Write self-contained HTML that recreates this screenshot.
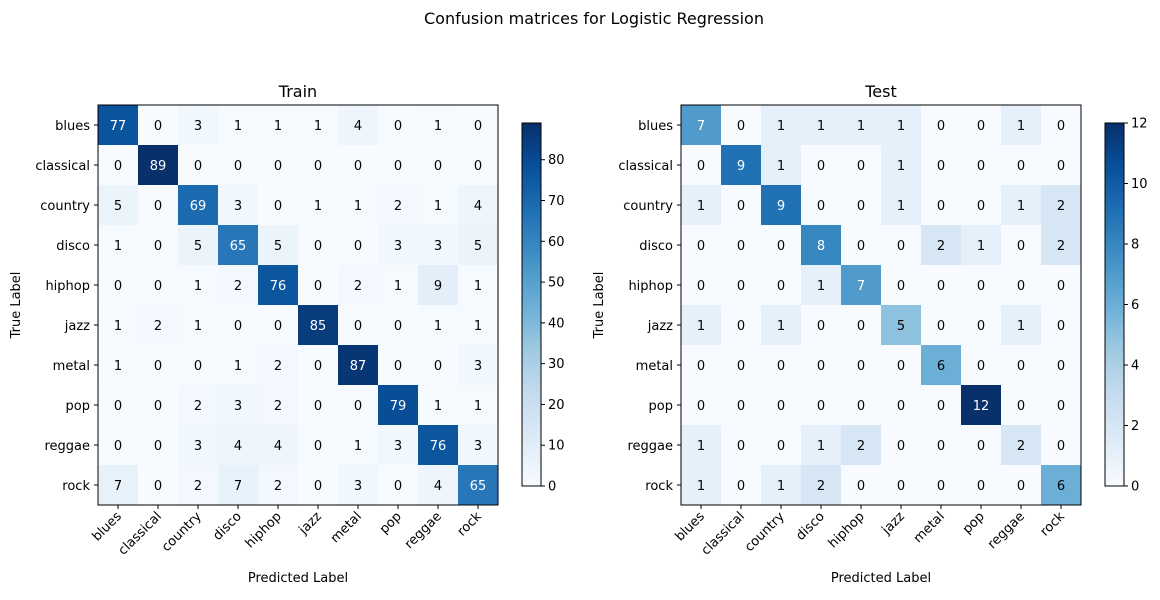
<!DOCTYPE html>
<html><head><meta charset="utf-8"><style>
body{margin:0;background:#fff;font-family:"Liberation Sans","DejaVu Sans",sans-serif}
svg text{font-family:"DejaVu Sans","Liberation Sans",sans-serif}
</style></head><body>
<svg id="chart" width="1160" height="595" xmlns="http://www.w3.org/2000/svg">
<defs><linearGradient id="blues" x1="0" y1="1" x2="0" y2="0">
<stop offset="0" stop-color="#f7fbff"/><stop offset="0.125" stop-color="#deebf7"/><stop offset="0.25" stop-color="#c6dbef"/><stop offset="0.375" stop-color="#9ecae1"/><stop offset="0.5" stop-color="#6baed6"/><stop offset="0.625" stop-color="#4292c6"/><stop offset="0.75" stop-color="#2171b5"/><stop offset="0.875" stop-color="#08519c"/><stop offset="1" stop-color="#08306b"/></linearGradient></defs>
<text x="594" y="24" font-size="16" text-anchor="middle">Confusion matrices for Logistic Regression</text>
</svg>
<script>
const labels=["blues","classical","country","disco","hiphop","jazz","metal","pop","reggae","rock"];
const trainMatrix=[
[77,0,3,1,1,1,4,0,1,0],
[0,89,0,0,0,0,0,0,0,0],
[5,0,69,3,0,1,1,2,1,4],
[1,0,5,65,5,0,0,3,3,5],
[0,0,1,2,76,0,2,1,9,1],
[1,2,1,0,0,85,0,0,1,1],
[1,0,0,1,2,0,87,0,0,3],
[0,0,2,3,2,0,0,79,1,1],
[0,0,3,4,4,0,1,3,76,3],
[7,0,2,7,2,0,3,0,4,65]];
const testMatrix=[
[7,0,1,1,1,1,0,0,1,0],
[0,9,1,0,0,1,0,0,0,0],
[1,0,9,0,0,1,0,0,1,2],
[0,0,0,8,0,0,2,1,0,2],
[0,0,0,1,7,0,0,0,0,0],
[1,0,1,0,0,5,0,0,1,0],
[0,0,0,0,0,0,6,0,0,0],
[0,0,0,0,0,0,0,12,0,0],
[1,0,0,1,2,0,0,0,2,0],
[1,0,1,2,0,0,0,0,0,6]];
const trainTicks=[0,10,20,30,40,50,60,70,80];
const testTicks=[0,2,4,6,8,10,12];
const stops=[[247,251,255],[222,235,247],[198,219,239],[158,202,225],[107,174,214],[66,146,198],[33,113,181],[8,81,156],[8,48,107]];
function blues(t){t=Math.max(0,Math.min(1,t));const p=t*8,i=Math.min(7,Math.floor(p)),f=p-i;const a=stops[i],b=stops[i+1];return `rgb(${a.map((v,k)=>Math.round(v+(b[k]-v)*f)).join(',')})`;}
const svg=document.getElementById('chart');const NS='http://www.w3.org/2000/svg';
function mk(tag,attrs,parent){const e=document.createElementNS(NS,tag);for(const k in attrs)e.setAttribute(k,attrs[k]);(parent||svg).appendChild(e);return e;}
function panel(name,matrix,ticks,x0,title){
  const y0=105,S=400,n=labels.length,c=S/n;
  let max=0;matrix.forEach(r=>r.forEach(v=>{if(v>max)max=v;}));
  const g=mk('g',{});
  
  
  const tt=mk('text',{x:x0+S/2,y:y0-8,'font-size':16,'text-anchor':'middle'},g);tt.textContent=title;
  
  
  const xs=j=>x0+j*c, ys=i=>y0+i*c;
  matrix.forEach((row,i)=>row.forEach((v,j)=>{
    const r=mk('rect',{x:xs(j),y:ys(i),width:c+0.5,height:c+0.5,fill:blues(v/max)},g);
    
    
    const t=mk('text',{x:xs(j)+c/2,y:ys(i)+c/2+5,'font-size':13,'text-anchor':'middle',fill:v>max/2?'#fff':'#000'},g);t.textContent=v;
    
    
  }));
  mk('rect',{x:x0,y:y0,width:S,height:S,fill:'none',stroke:'#000','stroke-width':1},g);
  labels.forEach((l,i)=>{
    mk('line',{x1:x0,x2:x0-4,y1:ys(i)+c/2,y2:ys(i)+c/2,stroke:'#000'},g);
    const t=mk('text',{x:x0-8,y:ys(i)+c/2+5,'font-size':13,'text-anchor':'end'},g);t.textContent=l;
    
    
    const xc=xs(i)+c/2;
    mk('line',{x1:xc,x2:xc,y1:y0+S,y2:y0+S+4,stroke:'#000'},g);
    const t2=mk('text',{x:xc+4,y:y0+S+12,'font-size':13,'text-anchor':'end',transform:`rotate(-45 ${xc+4} ${y0+S+12})`},g);t2.textContent=l;
    
    
  });
  const xl=mk('text',{x:x0+S/2,y:582,'font-size':13,'text-anchor':'middle'},g);xl.textContent='Predicted Label';
  
  
  const yl=mk('text',{x:x0-78,y:y0+S/2,'font-size':13,'text-anchor':'middle',transform:`rotate(-90 ${x0-78} ${y0+S/2})`},g);yl.textContent='True Label';
  
  
  // colorbar
  const cx=x0+424,cy0=123,cy1=486,cw=19;
  const cb=mk('rect',{x:cx,y:cy0,width:cw,height:cy1-cy0,fill:'url(#blues)',stroke:'#000','stroke-width':1},g);
  
  
  ticks.forEach(v=>{
    const y=cy1-(v/max)*(cy1-cy0);
    mk('line',{x1:cx+cw,x2:cx+cw+4,y1:y,y2:y,stroke:'#000'},g);
    const t=mk('text',{x:cx+cw+7,y:y+4.5,'font-size':13},g);t.textContent=v;
    
    
  });
}
panel('train',trainMatrix,trainTicks,98,'Train');
panel('test',testMatrix,testTicks,681,'Test');
</script>
</body></html>
